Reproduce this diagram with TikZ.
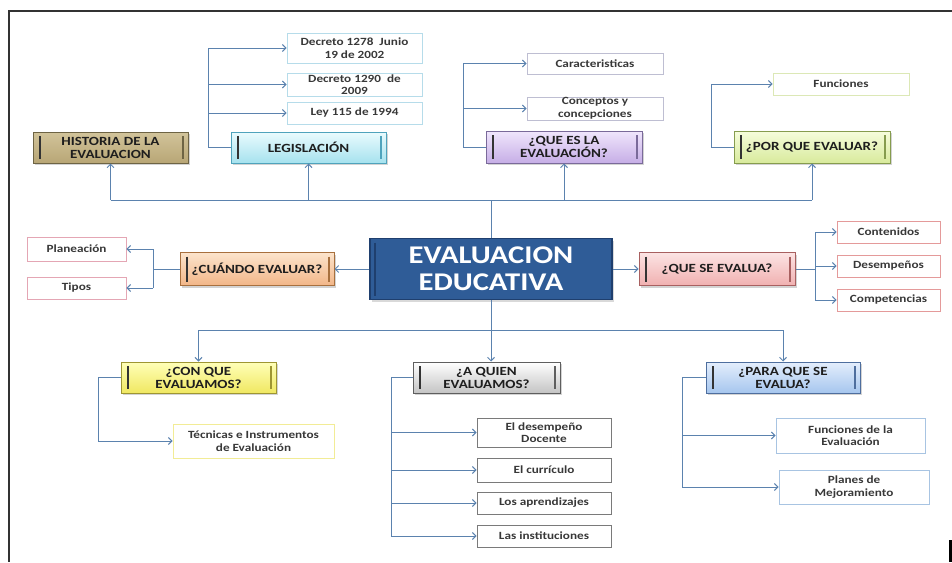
\documentclass[tikz,border=0pt]{standalone}
\usepackage{fontspec}
\setmainfont{Carlito}[FakeStretch=1.2]
\usetikzlibrary{arrows.meta,shadows}
\definecolor{lnc}{HTML}{5B82AE}
\definecolor{txt}{HTML}{383838}
\definecolor{ctxt}{HTML}{1E1E1E}
\definecolor{frm}{HTML}{333333}
\definecolor{mainblue}{HTML}{2F5C97}
\definecolor{mainbd}{HTML}{1F3F6E}
% category colours: top, bottom, border
\definecolor{hisT}{HTML}{D2C49A}\definecolor{hisB}{HTML}{B8A676}\definecolor{hisD}{HTML}{6E6444}
\definecolor{legT}{HTML}{EAFBFE}\definecolor{legB}{HTML}{A6E2EE}\definecolor{legD}{HTML}{4FA3BC}
\definecolor{qesT}{HTML}{F0E6FC}\definecolor{qesB}{HTML}{C6AEE6}\definecolor{qesD}{HTML}{7A6A9A}
\definecolor{porT}{HTML}{F6FDDC}\definecolor{porB}{HTML}{D8EA9C}\definecolor{porD}{HTML}{869C4E}
\definecolor{cuaT}{HTML}{FCE4CC}\definecolor{cuaB}{HTML}{F2B688}\definecolor{cuaD}{HTML}{A8703E}
\definecolor{qseT}{HTML}{FCE4E4}\definecolor{qseB}{HTML}{F0B0B0}\definecolor{qseD}{HTML}{A86060}
\definecolor{conT}{HTML}{FFFFB8}\definecolor{conB}{HTML}{F0E862}\definecolor{conD}{HTML}{9E9632}
\definecolor{aquT}{HTML}{FFFFFF}\definecolor{aquB}{HTML}{C4C4C4}\definecolor{aquD}{HTML}{5E5E5E}
\definecolor{parT}{HTML}{E4EEFC}\definecolor{parB}{HTML}{A6C6EE}\definecolor{parD}{HTML}{4E6E9E}
% leaf borders
\definecolor{lfLeg}{HTML}{B6DCEA}
\definecolor{lfQes}{HTML}{BEBED2}
\definecolor{lfPor}{HTML}{DCE8B6}
\definecolor{lfCua}{HTML}{E4A6B4}
\definecolor{lfQse}{HTML}{E49A9A}
\definecolor{lfCon}{HTML}{F2EC96}
\definecolor{lfAqu}{HTML}{7A7A7A}
\definecolor{lfPar}{HTML}{A8C4E2}
\tikzset{
  line/.style={draw=lnc, line width=1pt},
  arr/.style={line, -{Straight Barb[length=3.5pt,width=7pt]}},
  leaf/.style n args={3}{draw=#1, line width=0.8pt, fill=white, text=txt,
    minimum width=#2, minimum height=#3, inner sep=0pt, align=center,
    font=\bfseries\fontsize{11}{12.5}\selectfont},
  cat/.style n args={5}{top color=#1, bottom color=#2, draw=#3, line width=1pt,
    minimum width=#4, minimum height=#5, inner sep=0pt, align=center, text=ctxt,
    font=\bfseries\fontsize{12.5}{13}\selectfont,
    drop shadow={opacity=0.35, shadow xshift=1.5pt, shadow yshift=-2pt},
    path picture={
      \draw[line width=1.4pt, black!80] ([xshift=7pt,yshift=-4pt]path picture bounding box.north west) -- ([xshift=7pt,yshift=4pt]path picture bounding box.south west);
      \draw[line width=1.4pt, #3] ([xshift=-5pt,yshift=-4pt]path picture bounding box.north east) -- ([xshift=-5pt,yshift=4pt]path picture bounding box.south east);
    }},
  frame/.style={draw=frm, line width=1.6pt}
}
\begin{document}
\begin{tikzpicture}[x=1pt,y=-1pt]
\useasboundingbox (0,0) rectangle (952,562);
\draw[frame] (952,11) -- (9,11) -- (9,562);
\fill[black] (949,540) rectangle (952,562);

% centre
\node[fill=mainblue, draw=mainbd, line width=1.2pt, minimum width=242pt, minimum height=61pt,
  inner sep=0pt, align=center, text=white, font=\bfseries\fontsize{25.5}{27}\selectfont,
  drop shadow={opacity=0.3, shadow xshift=1.5pt, shadow yshift=-2pt},
  path picture={\draw[line width=2pt, mainbd] ([xshift=5pt,yshift=-4pt]path picture bounding box.north west) -- ([xshift=5pt,yshift=4pt]path picture bounding box.south west);}]
  (main) at (491,269) {EVALUACION\\EDUCATIVA};

% category boxes
\node[cat={hisT}{hisB}{hisD}{155pt}{31pt}] (historia) at (110.5,147.5) {HISTORIA DE LA\\EVALUACION};
\node[cat={legT}{legB}{legD}{155pt}{31pt}] (legis) at (308.5,147.5) {LEGISLACIÓN};
\node[cat={qesT}{qesB}{qesD}{156pt}{32pt}] (quees) at (564,147) {¿QUE ES LA\\EVALUACIÓN?};
\node[cat={porT}{porB}{porD}{156pt}{32pt}] (porque) at (812,147) {¿POR QUE EVALUAR?};
\node[cat={cuaT}{cuaB}{cuaD}{154pt}{33pt}] (cuando) at (257,269) {¿CUÁNDO EVALUAR?};
\node[cat={qseT}{qseB}{qseD}{156pt}{33pt}] (quese) at (717,269) {¿QUE SE EVALUA?};
\node[cat={conT}{conB}{conD}{155pt}{31pt}] (conque) at (198.5,377.5) {¿CON QUE\\EVALUAMOS?};
\node[cat={aquT}{aquB}{aquD}{147pt}{31pt}] (aquien) at (486.5,377.5) {¿A QUIEN\\EVALUAMOS?};
\node[cat={parT}{parB}{parD}{154pt}{31pt}] (paraque) at (783,377.5) {¿PARA QUE SE\\EVALUA?};

% leaf boxes
\node[leaf={lfLeg}{135pt}{30pt}] (d1278) at (354.5,48) {Decreto 1278 \ Junio\\19 de 2002};
\node[leaf={lfLeg}{135pt}{23pt}] (d1290) at (354.5,84.5) {Decreto 1290 \ de\\2009};
\node[leaf={lfLeg}{135pt}{22pt}] (ley) at (354.5,113) {Ley 115 de 1994};
\node[leaf={lfQes}{136pt}{21pt}] (caract) at (595,63.5) {Caracteristicas};
\node[leaf={lfQes}{136pt}{23pt}] (concep) at (595,108.5) {Conceptos y\\concepciones};
\node[leaf={lfPor}{136pt}{22pt}] (funciones) at (841,84) {Funciones};
\node[leaf={lfCua}{99pt}{24pt}] (planeacion) at (76.5,249) {Planeación};
\node[leaf={lfCua}{99pt}{22pt}] (tipos) at (76.5,288) {Tipos};
\node[leaf={lfQse}{103pt}{22pt}] (contenidos) at (888.5,232) {Contenidos};
\node[leaf={lfQse}{103pt}{22pt}] (desempenos) at (888.5,266) {Desempeños};
\node[leaf={lfQse}{103pt}{22pt}] (competencias) at (888.5,300) {Competencias};
\node[leaf={lfCon}{161pt}{34pt}] (tecnicas) at (253.5,441) {Técnicas e Instrumentos\\de Evaluación};
\node[leaf={lfAqu}{134pt}{29pt}] (docente) at (544,432.5) {El desempeño\\Docente};
\node[leaf={lfAqu}{134pt}{24pt}] (curriculo) at (544,470) {El currículo};
\node[leaf={lfAqu}{134pt}{22pt}] (aprendizajes) at (544,503) {Los aprendizajes};
\node[leaf={lfAqu}{134pt}{22pt}] (instituciones) at (544,536) {Las instituciones};
\node[leaf={lfPar}{149pt}{35pt}] (funceval) at (850.5,435.5) {Funciones de la\\Evaluación};
\node[leaf={lfPar}{150pt}{34pt}] (planes) at (854,487) {Planes de\\Mejoramiento};

% junction coordinates
\coordinate (topbus) at (0,200);
\coordinate (botbus) at (0,330);
\coordinate (lbx) at (208,0);
\coordinate (qbx) at (463,0);
\coordinate (pbx) at (711,0);
\coordinate (cbx) at (153,0);
\coordinate (sbx) at (815,0);
\coordinate (conx) at (98,0);
\coordinate (aqx) at (391,0);
\coordinate (pqx) at (682,0);

% top bus
\draw[line] (main.north) -- (main.north |- topbus);
\draw[line] (historia.south |- topbus) -- (porque.south |- topbus);
\foreach \n in {historia,legis,quees,porque}
  \draw[arr] (\n.south |- topbus) -- (\n.south);

% legislacion bracket
\draw[line] (legis.west) -- (legis.west -| lbx) -- (lbx |- d1278.west);
\foreach \n in {d1278,d1290,ley}
  \draw[arr] (lbx |- \n.west) -- (\n.west);

% que es bracket
\draw[line] (quees.west) -- (quees.west -| qbx) -- (qbx |- caract.west);
\foreach \n in {caract,concep}
  \draw[arr] (qbx |- \n.west) -- (\n.west);

% por que bracket
\draw[arr] (porque.west) -- (porque.west -| pbx) -- (pbx |- funciones.west) -- (funciones.west);

% cuando
\draw[arr] (main.west) -- (cuando.east);
\draw[line] (cuando.west) -- (cuando.west -| cbx);
\draw[line] (cbx |- planeacion.east) -- (cbx |- tipos.east);
\foreach \n in {planeacion,tipos}
  \draw[arr] (cbx |- \n.east) -- (\n.east);

% que se evalua
\draw[arr] (main.east) -- (quese.west);
\draw[line] (quese.east) -- (quese.east -| sbx);
\draw[line] (sbx |- contenidos.west) -- (sbx |- competencias.west);
\foreach \n in {contenidos,desempenos,competencias}
  \draw[arr] (sbx |- \n.west) -- (\n.west);

% bottom bus
\draw[line] (main.south) -- (main.south |- botbus);
\draw[line] (conque.north |- botbus) -- (paraque.north |- botbus);
\draw[arr] (conque.north |- botbus) -- (conque.north);
\draw[arr] (main.south |- botbus) -- (main.south |- aquien.north);
\draw[arr] (paraque.north |- botbus) -- (paraque.north);

% con que
\draw[arr] (conque.west) -- (conque.west -| conx) -- (conx |- tecnicas.west) -- (tecnicas.west);

% a quien
\draw[line] (aquien.west) -- (aquien.west -| aqx) -- (aqx |- instituciones.west);
\foreach \n in {docente,curriculo,aprendizajes,instituciones}
  \draw[arr] (aqx |- \n.west) -- (\n.west);

% para que
\draw[line] (paraque.west) -- (paraque.west -| pqx) -- (pqx |- planes.west);
\foreach \n in {funceval,planes}
  \draw[arr] (pqx |- \n.west) -- (\n.west);
\end{tikzpicture}
\end{document}
